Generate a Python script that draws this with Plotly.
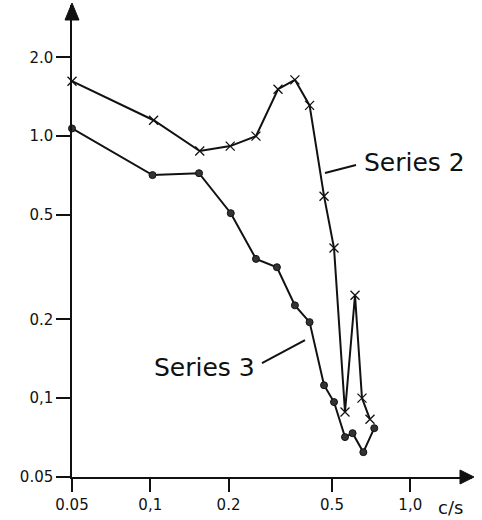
import plotly.graph_objects as go
import math

# Data
s2_x = [0.05, 0.103, 0.155, 0.203, 0.255, 0.31, 0.36, 0.41, 0.466, 0.509, 0.561, 0.613, 0.652, 0.70]
s2_y = [1.62, 1.15, 0.877, 0.916, 1.0, 1.51, 1.64, 1.31, 0.59, 0.374, 0.0885, 0.247, 0.10, 0.083]

s3_x = [0.05, 0.102, 0.154, 0.204, 0.255, 0.307, 0.36, 0.41, 0.466, 0.509, 0.561, 0.60, 0.66, 0.727]
s3_y = [1.07, 0.71, 0.722, 0.508, 0.34, 0.316, 0.226, 0.195, 0.112, 0.0966, 0.071, 0.0735, 0.0622, 0.0768]

x_ticks = [0.05, 0.1, 0.2, 0.5, 1.0]
x_tick_labels = ["0.05", "0,1", "0.2", "0.5", "1,0"]
y_ticks = [0.05, 0.1, 0.2, 0.5, 1.0, 2.0]
y_tick_labels = ["0.05", "0,1", "0.2", "0.5", "1.0", "2.0"]

FONT = "DejaVu Sans"
TICKFONT = "DejaVu Sans"
INK = "#111111"

fig = go.Figure()
fig.add_trace(go.Scatter(
    x=s2_x, y=s2_y, mode="lines+markers", name="Series 2",
    line=dict(color=INK, width=2),
    marker=dict(symbol="x-thin", size=9, line=dict(color=INK, width=1.3)),
    cliponaxis=False,
))
fig.add_trace(go.Scatter(
    x=s3_x, y=s3_y, mode="lines+markers", name="Series 3",
    line=dict(color=INK, width=2),
    marker=dict(symbol="circle", size=7, color="#333333", line=dict(color=INK, width=1)),
    cliponaxis=False,
))

fig.update_layout(
    width=482, height=520,
    margin=dict(l=72, r=10, t=5, b=43),
    paper_bgcolor="white", plot_bgcolor="white",
    showlegend=False,
    font=dict(family=FONT, size=16, color=INK),
    xaxis=dict(
        type="log", range=[math.log10(0.05), math.log10(0.05) + 400 / 260],
        tickvals=x_ticks, ticktext=x_tick_labels,
        ticks="outside", ticklen=13, tickwidth=1.5, tickcolor=INK,
        showline=True, linecolor=INK, linewidth=1.5,
        showgrid=False, zeroline=False, automargin=False,
        tickfont=dict(family=TICKFONT, size=15, color=INK),
    ),
    yaxis=dict(
        type="log", range=[math.log10(0.05), math.log10(0.05) + 472 / 262],
        tickvals=y_ticks, ticktext=y_tick_labels,
        ticks="outside", ticklen=14, tickwidth=1.5, tickcolor=INK,
        showline=True, linecolor=INK, linewidth=1.5,
        showgrid=False, zeroline=False, automargin=False,
        tickfont=dict(family=TICKFONT, size=15, color=INK),
    ),
    shapes=[
        # arrowheads on axes
        dict(type="path", xref="paper", yref="paper", xsizemode="pixel", ysizemode="pixel",
             xanchor=0, yanchor=1, path="M -7,-15 L 7,-15 L 0,2 Z",
             fillcolor=INK, line=dict(color=INK, width=1)),
        dict(type="path", xref="paper", yref="paper", xsizemode="pixel", ysizemode="pixel",
             xanchor=1, yanchor=0, path="M -12,-7 L -12,7 L 2,0 Z",
             fillcolor=INK, line=dict(color=INK, width=1)),
        # leader lines for series labels
        dict(type="line", xref="paper", yref="paper", x0=0.6325, y0=0.644, x1=0.71, y1=0.661,
             line=dict(color=INK, width=2)),
        dict(type="line", xref="paper", yref="paper", x0=0.475, y0=0.2415, x1=0.5825, y1=0.290,
             line=dict(color=INK, width=2)),
    ],
    annotations=[
        dict(text="Series 2", xref="paper", yref="paper", x=0.725, y=0.667,
             xanchor="left", yanchor="middle", showarrow=False,
             font=dict(family=FONT, size=25, color=INK)),
        dict(text="Series 3", xref="paper", yref="paper", x=0.4625, y=0.233,
             xanchor="right", yanchor="middle", showarrow=False,
             font=dict(family=FONT, size=25, color=INK)),
        dict(text="c/s", xref="paper", yref="paper", x=0.945, y=-0.0636,
             xanchor="center", yanchor="middle", showarrow=False,
             font=dict(family=FONT, size=18, color=INK)),
    ],
)

fig.write_html(
    "out.html",
    config={"displayModeBar": False},
    post_script="document.body.style.margin='0';document.body.style.padding='0';document.body.style.overflow='hidden';",
)
